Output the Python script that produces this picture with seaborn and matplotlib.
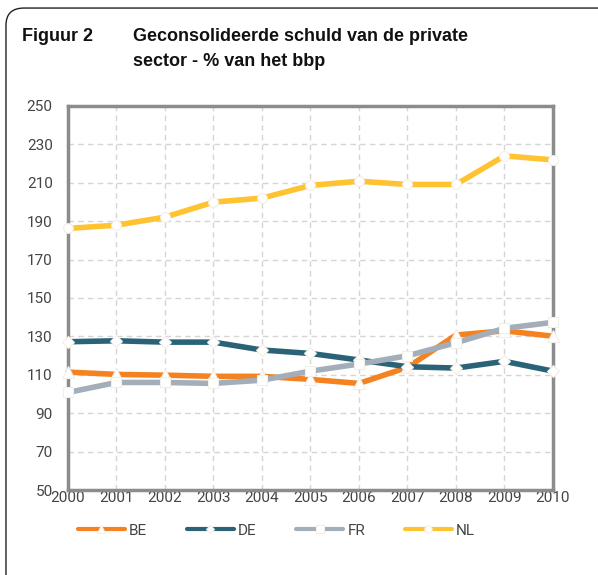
import numpy as np
import pandas as pd
import seaborn as sns
import matplotlib
matplotlib.use("Agg")
import matplotlib.pyplot as plt
from matplotlib.patches import FancyBboxPatch
from matplotlib.lines import Line2D

years = list(range(2000, 2011))
be = [111.4, 110.2, 109.8, 109.2, 109.2, 107.6, 105.5, 113.9, 130.7, 132.9, 130.1]
de = [127.2, 127.7, 127.0, 127.0, 122.9, 121.1, 117.7, 114.2, 113.5, 117.0, 111.9]
fr = [100.8, 106.0, 106.0, 105.5, 107.2, 111.9, 115.6, 119.9, 126.7, 134.2, 137.3]
nl = [186.2, 187.9, 192.1, 199.9, 202.0, 208.6, 210.8, 209.1, 209.1, 224.0, 221.9]
series_names = ["BE", "DE", "FR", "NL"]
y_ticks = [50, 70, 90, 110, 130, 150, 170, 190, 210, 230, 250]

colors = {"BE": "#F58220", "DE": "#2A6378", "FR": "#A3AEBA", "NL": "#FFC332"}
markers = {"BE": "^", "DE": "D", "FR": "s", "NL": "o"}
msizes = {"BE": 8, "DE": 6, "FR": 7.5, "NL": 7}

df = pd.DataFrame({"year": years * 4,
                   "value": be + de + fr + nl,
                   "country": sum([[n] * len(years) for n in series_names], [])})

sns.set_style("white")
plt.rcParams['font.family'] = ['Roboto', 'DejaVu Sans']

fig = plt.figure(figsize=(5.98, 5.75), dpi=100)
box = FancyBboxPatch((0.010, -0.05), 1.2, 1.036, boxstyle="round,pad=0,rounding_size=0.03",
                     transform=fig.transFigure, facecolor="white", edgecolor="#222222",
                     linewidth=1.0, zorder=-10)
fig.patches.append(box)

ax = fig.add_axes([0.1137, 0.1478, 0.811, 0.668])
for n in series_names:
    sub = df[df.country == n]
    sns.lineplot(data=sub, x="year", y="value", ax=ax, color=colors[n], linewidth=4,
                 marker=markers[n], markersize=msizes[n], markerfacecolor="white",
                 markeredgecolor="#F3EEE6", markeredgewidth=0.8, legend=False,
                 clip_on=False, zorder=3)

ax.set_xlim(2000, 2010)
ax.set_ylim(50, 250)
ax.set_xticks(years)
ax.set_yticks(y_ticks)
ax.set_xlabel("")
ax.set_ylabel("")
ax.grid(True, color="#D5D5D5", linestyle=(0, (4, 3)), linewidth=1)
for s in ax.spines.values():
    s.set_color("#8C8C8C")
    s.set_linewidth(2.5)
ax.tick_params(axis="both", labelsize=11, colors="#444444", length=0, pad=3)
ax.tick_params(axis="y", pad=6, length=5, width=2, color="#8C8C8C", direction="out")
ax.tick_params(axis="x", pad=1)

handles = [Line2D([0], [0], color=colors[n], linewidth=3, marker=markers[n],
                  markersize=msizes[n] * 0.75, markerfacecolor="white",
                  markeredgecolor="#F3EEE6", markeredgewidth=0.8) for n in series_names]
fig.legend(handles, series_names, loc="center", ncol=4, bbox_to_anchor=(0.462, 0.077),
           frameon=False, fontsize=11, handlelength=3.1, columnspacing=2.6,
           handletextpad=0.25, labelcolor="#444444")

fig.text(0.037, 0.937, "Figuur 2", fontsize=13, fontweight="bold",
         family="Liberation Sans", color="#111111", va="center")
fig.text(0.222, 0.937, "Geconsolideerde schuld van de private", fontsize=13,
         fontweight="bold", family="Liberation Sans", color="#111111", va="center")
fig.text(0.222, 0.893, "sector - % van het bbp", fontsize=13,
         fontweight="bold", family="Liberation Sans", color="#111111", va="center")

fig.savefig("out.png", dpi=100)
